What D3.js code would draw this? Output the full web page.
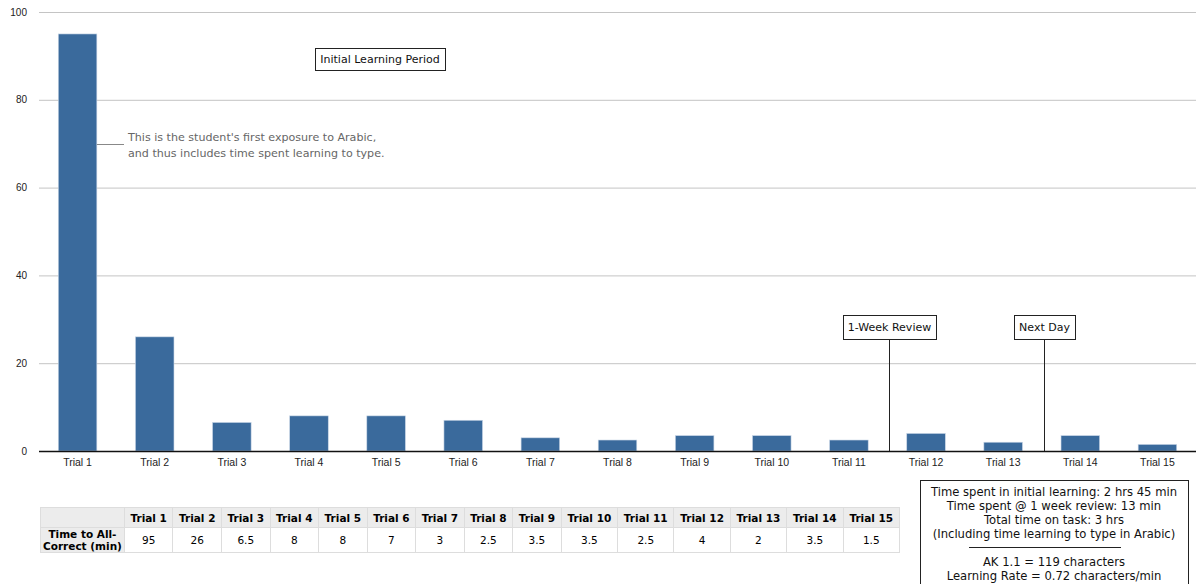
<!DOCTYPE html>
<html><head><meta charset="utf-8">
<script src="https://cdn.jsdelivr.net/npm/d3@7"></script>
<style>
body{margin:0;background:#fff;width:1196px;height:584px;overflow:hidden;position:relative;font-family:"DejaVu Sans",sans-serif;}
svg{position:absolute;left:0;top:0;}
table.dt{position:absolute;left:40px;top:507px;border-collapse:collapse;font-family:"DejaVu Sans",sans-serif;font-size:10.5px;width:860px;}
table.dt td,table.dt th{border:1px solid #ddd;text-align:center;padding:0 4px;white-space:nowrap;}
table.dt th{background:#ececec;font-weight:bold;height:19px;}
table.dt td{height:24px;}
table.dt th.rh{background:#ececec;line-height:12px;width:68px;padding:0 2px;}
</style></head>
<body>
<script>
const categories = ["Trial 1","Trial 2","Trial 3","Trial 4","Trial 5","Trial 6","Trial 7","Trial 8","Trial 9","Trial 10","Trial 11","Trial 12","Trial 13","Trial 14","Trial 15"];
const values = [95, 26, 6.5, 8, 8, 7, 3, 2.5, 3.5, 3.5, 2.5, 4, 2, 3.5, 1.5];
const valueLabels = ["95","26","6.5","8","8","7","3","2.5","3.5","3.5","2.5","4","2","3.5","1.5"];
const yTicks = [0, 20, 40, 60, 80, 100];
const seriesName = ["Time to All-","Correct (min)"];
const phaseMarkers = [{label:"1-Week Review", after:"Trial 11"},{label:"Next Day", after:"Trial 13"}];
const topNote = "Initial Learning Period";
const barNote = ["This is the student's first exposure to Arabic,","and thus includes time spent learning to type."];
const infoLines1 = ["Time spent in initial learning: 2 hrs 45 min","Time spent @ 1 week review: 13 min","Total time on task: 3 hrs","(Including time learning to type in Arabic)"];
const infoLines2 = ["AK 1.1 = 119 characters","Learning Rate = 0.72 characters/min"];

const W = 1196, H = 584;
const svg = d3.select("body").append("svg").attr("width", W).attr("height", H);
const x = d3.scaleBand().domain(categories).range([39, 1196]).paddingInner(0.5).paddingOuter(0.25);
const y = d3.scaleLinear().domain([0, 100]).range([451, 12]);

function boxedText(parent, cx, ty, label, boxTop, boxH) {
  const g = parent.append("g");
  const r = g.append("rect");
  const t = g.append("text").attr("x", cx).attr("y", ty).attr("text-anchor", "middle")
    .attr("font-size", 11).attr("fill", "#111").text(label);
  const bb = t.node().getBBox();
  r.attr("x", Math.round(bb.x - 5) + 0.5).attr("y", boxTop).attr("width", Math.round(bb.width + 10)).attr("height", boxH)
    .attr("fill", "#fff").attr("stroke", "#222").attr("stroke-width", 1);
  return g;
}

// gridlines
svg.append("g").selectAll("line").data(yTicks.filter(d=>d>0)).join("line")
  .attr("x1", 39).attr("x2", 1196).attr("y1", d=>y(d)+0.5).attr("y2", d=>y(d)+0.5)
  .attr("stroke", "#c4c4c4").attr("stroke-width", 1);

// y labels
svg.append("g").selectAll("text").data(yTicks).join("text")
  .attr("x", 27).attr("y", d=>y(d)).attr("dy", "0.35em").attr("text-anchor", "end")
  .attr("font-family", "Liberation Sans, Arial, sans-serif").attr("font-size", 10).attr("fill", "#222")
  .text(d=>d);

// bars
svg.append("g").selectAll("rect").data(values).join("rect")
  .attr("x", (d,i)=>x(categories[i])).attr("width", x.bandwidth())
  .attr("y", d=>y(d)).attr("height", d=>y(0)-y(d))
  .attr("fill", "#3a6a9c").attr("stroke", "#c9d6e6").attr("stroke-width", 0.6);

// x axis baseline
svg.append("line").attr("x1", 39).attr("x2", 1196).attr("y1", y(0)+0.5).attr("y2", y(0)+0.5).attr("stroke", "#111").attr("stroke-width", 1.3);

// x labels
const xAxis = d3.axisBottom(x).tickSize(0).tickPadding(8);
const gx = svg.append("g").attr("transform", `translate(0,${y(0)})`).call(xAxis);
gx.select(".domain").remove();
gx.selectAll("text").attr("font-family", "Liberation Sans, Arial, sans-serif").attr("font-size", 10.5).attr("fill", "#222");

// phase markers
const step = x.step();
phaseMarkers.forEach(m => {
  const xx = Math.round(x(m.after) + x.bandwidth() + (step - x.bandwidth())/2) + 0.5 + 2;
  svg.append("line").attr("x1", xx).attr("x2", xx).attr("y1", 340).attr("y2", y(0)).attr("stroke", "#222").attr("stroke-width", 1);
  boxedText(svg, xx, 331, m.label, 315.5, 24);
});

// top note
boxedText(svg, 380, 63, topNote, 48.5, 22);

// bar note
{
  const bx = x(categories[0]) + x.bandwidth();
  svg.append("line").attr("x1", bx).attr("x2", 124).attr("y1", 144.5).attr("y2", 144.5).attr("stroke", "#888").attr("stroke-width", 1);
  svg.append("g").selectAll("text").data(barNote).join("text")
    .attr("x", 128).attr("y", (d,i)=>141 + i*16).attr("font-size", 11.1).attr("fill", "#666").text(d=>d);
}

// info box
{
  const cx = 1054;
  const g = svg.append("g");
  g.append("rect").attr("x", 920.5).attr("y", 480.5).attr("width", 268).attr("height", 110).attr("fill", "#fff").attr("stroke", "#222").attr("stroke-width", 1);
  g.selectAll("text.a").data(infoLines1).join("text").attr("class","a")
    .attr("x", cx).attr("y", (d,i)=>496 + i*14).attr("text-anchor", "middle").attr("font-size", 11.6).attr("fill", "#111").text(d=>d);
  g.append("line").attr("x1", 969).attr("x2", 1121).attr("y1", 547.5).attr("y2", 547.5).attr("stroke", "#222");
  g.selectAll("text.b").data(infoLines2).join("text").attr("class","b")
    .attr("x", cx).attr("y", (d,i)=>566 + i*14).attr("text-anchor", "middle").attr("font-size", 11.6).attr("fill", "#111").text(d=>d);
}

// data table
const table = d3.select("body").append("table").attr("class", "dt");
const hr = table.append("tr");
hr.append("th").attr("class","rh").html("");
hr.selectAll("th.c").data(categories).join("th").attr("class","c").text(d=>d);
const dr = table.append("tr");
dr.append("th").attr("class","rh").html(seriesName.join("<br>"));
dr.selectAll("td").data(valueLabels).join("td").text(d=>d);
</script>
</body></html>
